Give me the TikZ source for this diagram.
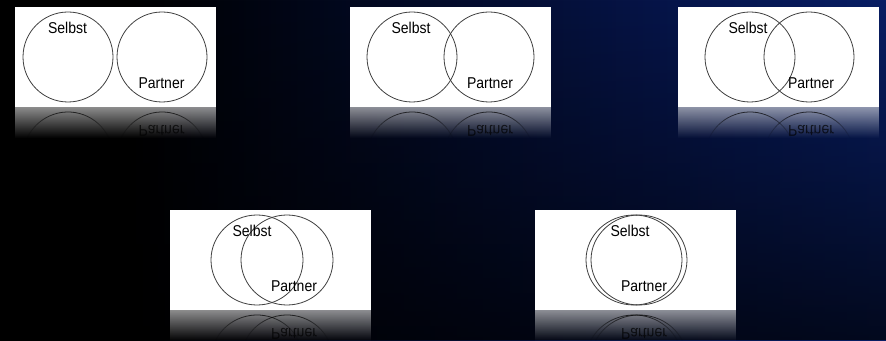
\documentclass[tikz,border=0pt]{standalone}
\usepackage{fontspec}
\setmainfont{Liberation Sans}
\usetikzlibrary{fadings}
\definecolor{bgmid}{RGB}{6,20,72}
\definecolor{bgblue}{RGB}{14,50,155}
\pgfdeclarehorizontalshading{vbg}{100bp}{color(0bp)=(black); color(32bp)=(black); color(62bp)=(bgmid); color(100bp)=(bgblue)}
\tikzfading[name=vdark, top color=transparent!100, bottom color=transparent!30]
\tikzfading[name=vfade, top color=transparent!45, bottom color=transparent!100]
\tikzfading[name=vfadeline, top color=transparent!10, bottom color=transparent!100]
\tikzset{
  vpanel/.style={fill=white},
  vcircle/.style={draw=black!75, line width=0.8pt},
  vlabel/.style={font=\fontsize{14}{16}\selectfont, text=black, inner sep=0pt, yscale=1.12},
  pics/venn/.style n args={5}{code={
    \fill[vpanel] (0,0) rectangle (201,100);
    \draw[vcircle] (#1,50) ellipse [x radius=#5, y radius=45];
    \draw[vcircle] (#2,50) ellipse [x radius=#5, y radius=45];
    \node[vlabel] (-selbst) at (#3,79) {Selbst};
    \node[vlabel] (-partner) at (#4,24) {Partner};
    % mirror image under the panel
    \fill[vpanel, path fading=vfade] (0,0) rectangle (201,-31);
    \draw[vcircle, draw=black, path fading=vfadeline] ({#1+#5*cos(25)},{-50+45*sin(25)})
      arc [start angle=25, end angle=155, x radius=#5, y radius=45];
    \draw[vcircle, draw=black, path fading=vfadeline] ({#2+#5*cos(25)},{-50+45*sin(25)})
      arc [start angle=25, end angle=155, x radius=#5, y radius=45];
    \node[vlabel, yscale=-1, opacity=0.7] (-mirror) at (#4,-24) {Partner};
  }},
}
\begin{document}
\begin{tikzpicture}[x=1pt, y=1pt]
  \useasboundingbox (0,0) rectangle (886,340);
  \shade[shading=vbg] (0,0) rectangle (886,340);
  \fill[black, path fading=vdark] (0,0) rectangle (886,340);

  \pic (p1) at (15,233)  {venn={53}{147}{52.5}{146.5}{45}};
  \pic (p2) at (350,233) {venn={62}{139}{61}{140}{45}};
  \pic (p3) at (678,233) {venn={72}{131}{70}{133}{45}};
  \pic (p4) at (170,30)  {venn={87}{117}{82}{124}{46}};
  \pic (p5) at (535,30)  {venn={99}{104}{95}{109}{48}};
\end{tikzpicture}
\end{document}
